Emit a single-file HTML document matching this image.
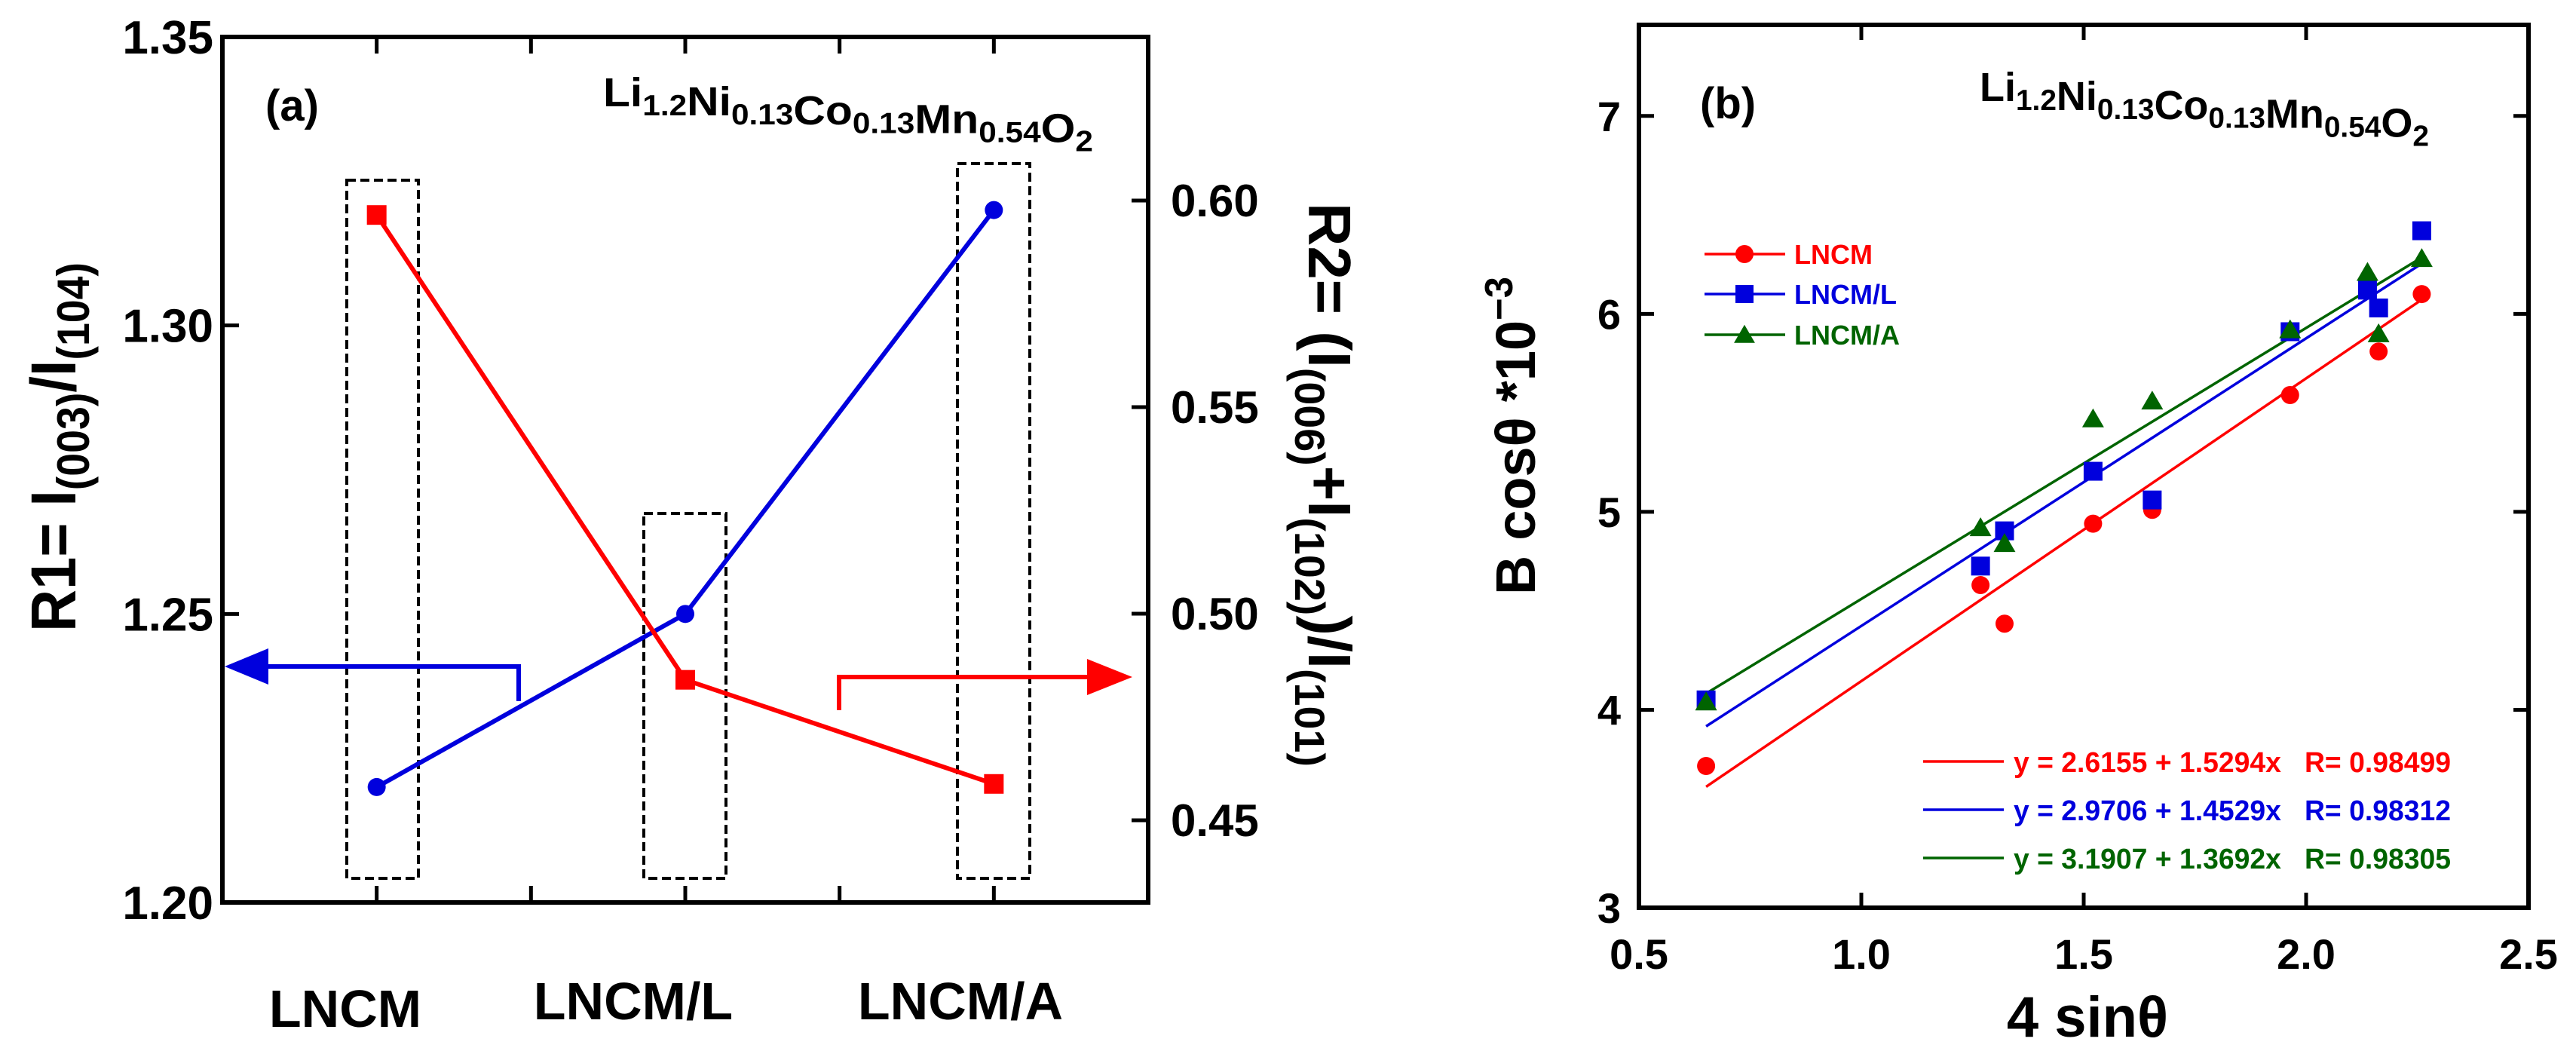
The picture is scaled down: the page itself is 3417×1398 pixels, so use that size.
<!DOCTYPE html>
<html><head><meta charset="utf-8">
<style>
html,body{margin:0;padding:0;background:#fff;}
svg{display:block;font-family:"Liberation Sans",Arial,sans-serif;font-weight:bold;}
</style></head>
<body>
<svg id="chart" xmlns="http://www.w3.org/2000/svg" width="3417" height="1398" viewBox="0 0 3417 1398">
<g id="pa"></g>
<g id="pb"></g>
</svg>
<script>
// ---- Panel (a) data ----
const catLabels = ["LNCM", "LNCM/L", "LNCM/A"];
const r1Values = [1.22, 1.25, 1.32];
const r2Values = [0.5965, 0.484, 0.4588];
const leftTicks = [1.20, 1.25, 1.30, 1.35];
const leftTickLabels = ["1.20", "1.25", "1.30", "1.35"];
const rightTicks = [0.45, 0.50, 0.55, 0.60];
const rightTickLabels = ["0.45", "0.50", "0.55", "0.60"];
// ---- Panel (b) data ----
const xRed = [0.651, 1.268, 1.322, 1.521, 1.654, 1.964, 2.163, 2.26];
const yRed = [3.716, 4.63, 4.435, 4.94, 5.01, 5.59, 5.81, 6.10];
const xBlue = [0.651, 1.268, 1.322, 1.521, 1.654, 1.964, 2.138, 2.163, 2.26];
const yBlue = [4.05, 4.726, 4.904, 5.205, 5.06, 5.91, 6.12, 6.03, 6.42];
const xGreen = [0.651, 1.268, 1.322, 1.521, 1.654, 1.964, 2.138, 2.163, 2.26];
const yGreen = [4.04, 4.92, 4.84, 5.47, 5.56, 5.92, 6.21, 5.90, 6.28];
const fitIntercepts = [2.6155, 2.9706, 3.1907];
const fitSlopes = [1.5294, 1.4529, 1.3692];
const fitLabels = ["y = 2.6155 + 1.5294x   R= 0.98499", "y = 2.9706 + 1.4529x   R= 0.98312", "y = 3.1907 + 1.3692x   R= 0.98305"];
const seriesNames = ["LNCM", "LNCM/L", "LNCM/A"];
const xTicksB = [0.5, 1.0, 1.5, 2.0, 2.5];
const xTickLabelsB = ["0.5", "1.0", "1.5", "2.0", "2.5"];
const yTicksB = [3, 4, 5, 6, 7];
const yTickLabelsB = ["3", "4", "5", "6", "7"];

const NS = "http://www.w3.org/2000/svg";
function mk(parent, tag, attrs, text) {
  const e = document.createElementNS(NS, tag);
  for (const k in attrs) e.setAttribute(k, attrs[k]);
  if (text !== undefined) e.textContent = text;
  parent.appendChild(e);
  return e;
}
const RED = "#ff0000", BLUE = "#0000dd", GREEN = "#006400";

// ---------------- Panel A ----------------
const pa = document.getElementById("pa");
const A = {l: 295, r: 1523, t: 49, b: 1197};
const axA = i => A.l + (i + 0.5) * (A.r - A.l) / 3;
const yL = v => A.b - (v - 1.20) / 0.15 * (A.b - A.t);
const yR = v => 1088 - (v - 0.45) / 0.05 * 274;

const boxes = [[460, 239, 555, 1165], [854, 681, 963, 1165], [1270, 217, 1366, 1165]];
boxes.forEach((bx, i) => {
  const r = mk(pa, "rect", {x: bx[0], y: bx[1], width: bx[2] - bx[0], height: bx[3] - bx[1], fill: "none", stroke: "#000", "stroke-width": 4, "stroke-dasharray": "12 6"});
  
  
});

const fa = mk(pa, "rect", {x: A.l, y: A.t, width: A.r - A.l, height: A.b - A.t, fill: "none", stroke: "#000", "stroke-width": 6});


for (let k = 0; k < 5; k++) {
  const x = A.l + (k + 1) * (A.r - A.l) / 6;
  mk(pa, "line", {x1: x, x2: x, y1: A.b, y2: A.b - 22, stroke: "#000", "stroke-width": 5});
  mk(pa, "line", {x1: x, x2: x, y1: A.t, y2: A.t + 22, stroke: "#000", "stroke-width": 5});
}
leftTicks.forEach((v, i) => {
  const y = yL(v);
  mk(pa, "line", {x1: A.l, x2: A.l + 22, y1: y, y2: y, stroke: "#000", "stroke-width": 5});
  const t = mk(pa, "text", {x: 283, y: y + 22, "font-size": 62, "text-anchor": "end"}, leftTickLabels[i]);
  
  
});
rightTicks.forEach((v, i) => {
  const y = yR(v);
  mk(pa, "line", {x1: A.r, x2: A.r - 22, y1: y, y2: y, stroke: "#000", "stroke-width": 5});
  const t = mk(pa, "text", {x: 1553, y: y + 21, "font-size": 60}, rightTickLabels[i]);
  
  
});
const catX = [458, 840, 1274], catY = [1362, 1352, 1352];
catLabels.forEach((c, i) => {
  const t = mk(pa, "text", {x: catX[i], y: catY[i], "font-size": 70, "text-anchor": "middle"}, c);
  
  
});

// arrows
const la = mk(pa, "polyline", {points: "340,884 688,884 688,930", fill: "none", stroke: BLUE, "stroke-width": 6});


mk(pa, "polygon", {points: "298,884 356,860 356,908", fill: BLUE});
const ra = mk(pa, "polyline", {points: "1113,942 1113,898 1450,898", fill: "none", stroke: RED, "stroke-width": 6});


mk(pa, "polygon", {points: "1502,898 1442,874 1442,922", fill: RED});

const r1pts = r1Values.map((v, i) => axA(i) + "," + yL(v)).join(" ");
const l1 = mk(pa, "polyline", {points: r1pts, fill: "none", stroke: BLUE, "stroke-width": 6});


r1Values.forEach((v, i) => {
  const c = mk(pa, "circle", {cx: axA(i), cy: yL(v), r: 12, fill: BLUE});
  
  
});
const r2pts = r2Values.map((v, i) => axA(i) + "," + yR(v)).join(" ");
const l2 = mk(pa, "polyline", {points: r2pts, fill: "none", stroke: RED, "stroke-width": 6});


r2Values.forEach((v, i) => {
  const s = mk(pa, "rect", {x: axA(i) - 13, y: yR(v) - 13, width: 26, height: 26, fill: RED});
  
  
});

function formula(parent, x, y, size, name, len) {
  const t = mk(parent, "text", {x: x, y: y, "font-size": size, textLength: len, lengthAdjust: "spacingAndGlyphs"});
  
  
  const parts = [["Li", 0], ["1.2", 1], ["Ni", 0], ["0.13", 1], ["Co", 0], ["0.13", 1], ["Mn", 0], ["0.54", 1], ["O", 0], ["2", 1]];
  parts.forEach(p => {
    if (p[1]) {
      mk(t, "tspan", {"font-size": size * 0.72, dy: size * 0.22}, p[0]);
      mk(t, "tspan", {dy: -size * 0.22}, "");
    } else {
      mk(t, "tspan", {}, p[0]);
    }
  });
  return t;
}
const la2 = mk(pa, "text", {x: 352, y: 160, "font-size": 58}, "(a)");


formula(pa, 800, 141, 54, "panel-a-formula", 650);

const t1 = mk(pa, "text", {transform: "translate(100,838) rotate(-90)", "font-size": 84, textLength: 490, lengthAdjust: "spacingAndGlyphs"});


mk(t1, "tspan", {}, "R1= I");
mk(t1, "tspan", {"font-size": 60, dy: 18}, "(003)");
mk(t1, "tspan", {dy: -18}, "/I");
mk(t1, "tspan", {"font-size": 60, dy: 18}, "(104)");

const t2 = mk(pa, "text", {transform: "translate(1736,269) rotate(90)", "font-size": 80, textLength: 748, lengthAdjust: "spacingAndGlyphs"});


mk(t2, "tspan", {}, "R2= (I");
mk(t2, "tspan", {"font-size": 56, dy: 18}, "(006)");
mk(t2, "tspan", {dy: -18}, "+I");
mk(t2, "tspan", {"font-size": 56, dy: 18}, "(102)");
mk(t2, "tspan", {dy: -18}, ")/I");
mk(t2, "tspan", {"font-size": 56, dy: 18}, "(101)");

// ---------------- Panel B ----------------
const pb = document.getElementById("pb");
const B = {l: 2174, r: 3354, t: 33, b: 1204};
const xB = v => B.l + (v - 0.5) / 2.0 * (B.r - B.l);
const yB = v => B.b - (v - 3) / 4.46 * (B.b - B.t);

const fb = mk(pb, "rect", {x: B.l, y: B.t, width: B.r - B.l, height: B.b - B.t, fill: "none", stroke: "#000", "stroke-width": 6});


xTicksB.forEach((v, i) => {
  const x = xB(v);
  if (i > 0 && i < xTicksB.length - 1) {
    mk(pb, "line", {x1: x, x2: x, y1: B.b, y2: B.b - 20, stroke: "#000", "stroke-width": 5});
    mk(pb, "line", {x1: x, x2: x, y1: B.t, y2: B.t + 20, stroke: "#000", "stroke-width": 5});
  }
  const t = mk(pb, "text", {x: x, y: 1285, "font-size": 56, "text-anchor": "middle"}, xTickLabelsB[i]);
  
  
});
yTicksB.forEach((v, i) => {
  const y = yB(v);
  if (i > 0) {
    mk(pb, "line", {x1: B.l, x2: B.l + 20, y1: y, y2: y, stroke: "#000", "stroke-width": 5});
    mk(pb, "line", {x1: B.r, x2: B.r - 20, y1: y, y2: y, stroke: "#000", "stroke-width": 5});
  }
  const t = mk(pb, "text", {x: 2150, y: y + 20, "font-size": 56, "text-anchor": "end"}, yTickLabelsB[i]);
  
  
});

const colors = [RED, BLUE, GREEN];
const xs = [xRed, xBlue, xGreen], ys = [yRed, yBlue, yGreen];
fitIntercepts.forEach((a, i) => {
  const x0 = 0.651, x1 = 2.26;
  const ln = mk(pb, "line", {x1: xB(x0), y1: yB(a + fitSlopes[i] * x0), x2: xB(x1), y2: yB(a + fitSlopes[i] * x1), stroke: colors[i], "stroke-width": 3.5});
  
  
});
function marker(parent, kind, cx, cy, color, s) {
  let e;
  if (kind === 0) e = mk(parent, "circle", {cx: cx, cy: cy, r: s * 0.5, fill: color});
  else if (kind === 1) e = mk(parent, "rect", {x: cx - s / 2, y: cy - s / 2, width: s, height: s, fill: color});
  else e = mk(parent, "polygon", {points: `${cx},${cy - s * 0.55} ${cx - s * 0.58},${cy + s * 0.45} ${cx + s * 0.58},${cy + s * 0.45}`, fill: color});
  return e;
}
[0, 1, 2].forEach(k => {
  xs[k].forEach((xv, j) => {
    const m = marker(pb, k, xB(xv), yB(ys[k][j]), colors[k], k === 0 ? 24 : 25);
    
    
  });
});

const legY = [337, 390, 444];
seriesNames.forEach((n, i) => {
  const g = mk(pb, "g", {});
  
  
  mk(g, "line", {x1: 2261, x2: 2368, y1: legY[i], y2: legY[i], stroke: colors[i], "stroke-width": 3.5});
  marker(g, i, 2314, legY[i], colors[i], 24);
  mk(g, "text", {x: 2380, y: legY[i] + 13, "font-size": 36, fill: colors[i]}, n);
});
const eqY = [1010, 1074, 1138];
fitLabels.forEach((s, i) => {
  const g = mk(pb, "g", {});
  
  
  mk(g, "line", {x1: 2551, x2: 2658, y1: eqY[i], y2: eqY[i], stroke: colors[i], "stroke-width": 3.5});
  const t = mk(g, "text", {x: 2671, y: eqY[i] + 14, "font-size": 38, fill: colors[i], textLength: 580, lengthAdjust: "spacingAndGlyphs"}, s);
  t.setAttribute("style", "white-space:pre");
});

const lb = mk(pb, "text", {x: 2255, y: 157, "font-size": 58}, "(b)");


formula(pb, 2626, 134, 54, "panel-b-formula", 596);

const tx = mk(pb, "text", {x: 2769, y: 1375, "font-size": 76, "text-anchor": "middle"}, "4 sinθ");


const ty = mk(pb, "text", {transform: "translate(2036,789) rotate(-90)", "font-size": 74, textLength: 422, lengthAdjust: "spacingAndGlyphs"});


mk(ty, "tspan", {}, "B cosθ *10");
mk(ty, "tspan", {"font-size": 52, dy: -30}, "−3");
</script>
</body></html>
